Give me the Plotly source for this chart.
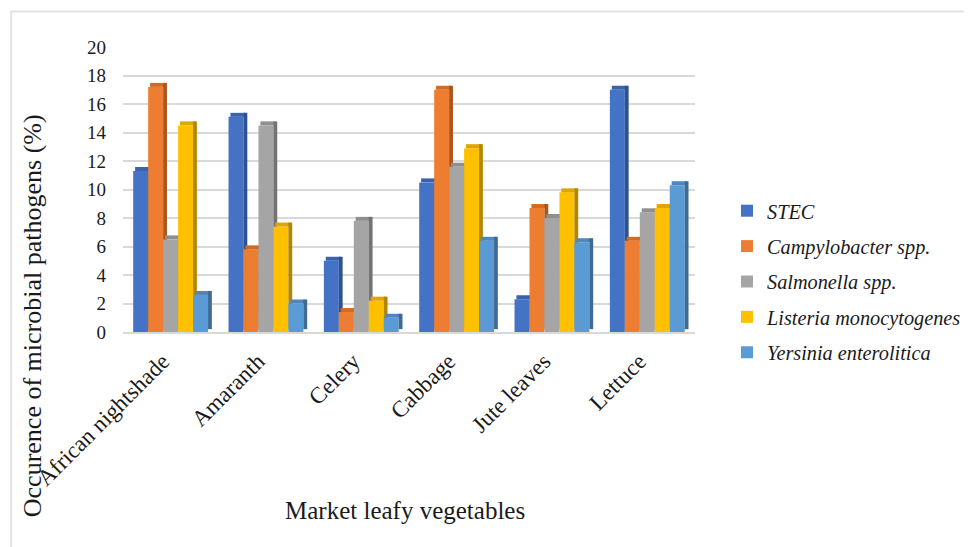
import plotly.graph_objects as go

categories = ["African nightshade", "Amaranth", "Celery", "Cabbage", "Jute leaves", "Lettuce"]
series_names = ["STEC", "Campylobacter spp.", "Salmonella spp.", "Listeria monocytogenes", "Yersinia enterolitica"]
stec = [11.3, 15.1, 5.0, 10.5, 2.3, 17.0]
campylobacter = [17.2, 5.8, 1.4, 17.0, 8.7, 6.4]
salmonella = [6.5, 14.5, 7.8, 11.6, 8.0, 8.4]
listeria = [14.5, 7.4, 2.2, 12.9, 9.8, 8.7]
yersinia = [2.6, 2.0, 1.0, 6.4, 6.3, 10.3]
y_ticks = [0, 2, 4, 6, 8, 10, 12, 14, 16, 18, 20]

series_values = [stec, campylobacter, salmonella, listeria, yersinia]
front_colors = ["#4472C4", "#ED7D31", "#A5A5A5", "#FFC000", "#5B9BD5"]
cap_colors = ["#3A63AE", "#D46A22", "#8F8F8F", "#DDA600", "#4D87BC"]
side_colors = ["#2F528F", "#A9561C", "#737373", "#B38600", "#3E6A94"]

W, H = 972, 547
OFF = 8  # page body margin of the browser
L, R, T, B = 122.8, 277.4, 46.5, 215
PW, PH = W - L - R, H - T - B

def px_x(px):
    return (px - L) / PW

def px_y(py):
    return (H - B - py) / PH

bw = 0.157
start = -0.393
serif = "Liberation Serif, Times New Roman, Times, serif"
ink = "#1a1a1a"

fig = go.Figure()
for i, (name, vals) in enumerate(zip(series_names, series_values)):
    off = start + i * bw
    fig.add_trace(go.Bar(
        x=categories, y=vals, name=f"<i>{name}</i>", legendgroup=name,
        offset=off, width=bw, marker=dict(color=front_colors[i], line=dict(width=0)),
        hoverinfo="x+y",
    ))
    fig.add_trace(go.Bar(
        x=categories, y=[0.28] * len(vals), base=vals, legendgroup=name, showlegend=False,
        offset=off + 0.02, width=bw, marker=dict(color=cap_colors[i], line=dict(width=0)),
        hoverinfo="skip",
    ))
    fig.add_trace(go.Bar(
        x=categories, y=[v + 0.08 for v in vals], base=0.2, legendgroup=name, showlegend=False,
        offset=off + bw, width=0.04, marker=dict(color=side_colors[i], line=dict(width=0)),
        hoverinfo="skip",
    ))

fig.update_layout(
    width=W, height=H,
    margin=dict(l=L - OFF, r=R + OFF, t=T - OFF, b=B + OFF, autoexpand=False),
    paper_bgcolor="white", plot_bgcolor="white",
    barmode="overlay",
    font=dict(family=serif, color=ink),
    xaxis=dict(
        type="category", range=[-0.5, 5.5],
        showgrid=False, showline=True, linecolor="#d9d9d9", linewidth=1.5,
        tickangle=-45, tickfont=dict(family=serif, size=23, color=ink),
        ticks="", ticklabelstandoff=5, ticklabelshift=-8,
    ),
    yaxis=dict(
        range=[0, 20], tickvals=y_ticks, showgrid=True, gridcolor="#d9d9d9", gridwidth=1.5,
        zeroline=False, showline=False, ticks="",
        tickfont=dict(family=serif, size=19, color=ink), ticklabelstandoff=16,
    ),
    legend=dict(
        xref="container", yref="container", x=(727 - OFF) / W, y=1 - (191 - OFF) / H,
        xanchor="left", yanchor="top",
        font=dict(family=serif, size=20.3, color=ink),
        tracegroupgap=6, bgcolor="rgba(0,0,0,0)",
    ),
    showlegend=True,
    annotations=[
        dict(text="Market leafy vegetables", xref="paper", yref="paper",
             x=px_x(405), y=px_y(511), showarrow=False,
             font=dict(family=serif, size=25, color=ink), xanchor="center", yanchor="middle"),
        dict(text="Occurence of microbial pathogens (%)", xref="paper", yref="paper",
             x=px_x(32), y=px_y(316), showarrow=False, textangle=-90,
             font=dict(family=serif, size=26, color=ink), xanchor="center", yanchor="middle"),
    ],
    shapes=[
        dict(type="path", xref="paper", yref="paper",
             path=f"M {px_x(11)},{px_y(560)} L {px_x(11)},{px_y(11)} L {px_x(980)},{px_y(11)}",
             line=dict(color="#e3e3e3", width=2), layer="below"),
    ],
)

fig.write_html("out.html")
